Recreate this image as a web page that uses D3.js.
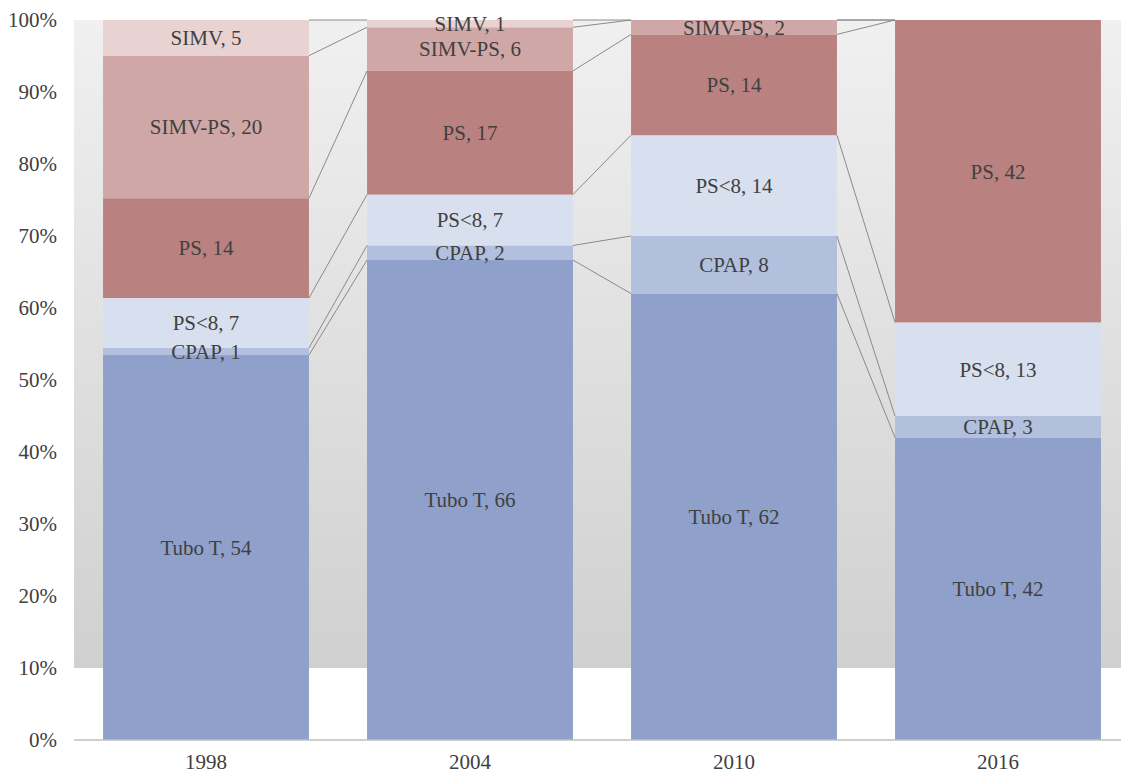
<!DOCTYPE html>
<html>
<head>
<meta charset="utf-8">
<script src="https://cdn.jsdelivr.net/npm/d3@7"></script>
<style>
  body { margin: 0; background: #fff; }
  svg text { font-family: "Liberation Serif", "Times New Roman", serif; fill: #404040; }
</style>
</head>
<body>
<svg id="chart" width="1121" height="774"></svg>
<script>
// Data
const years = ['1998', '2004', '2010', '2016'];
const series = ['Tubo T', 'CPAP', 'PS<8', 'PS', 'SIMV-PS', 'SIMV'];
const tuboT = [54, 66, 62, 42];
const cpap = [1, 2, 8, 3];
const psLow = [7, 7, 14, 13];
const ps = [14, 17, 14, 42];
const simvPs = [20, 6, 2, 0];
const simv = [5, 1, 0, 0];
const yTicks = [0, 0.1, 0.2, 0.3, 0.4, 0.5, 0.6, 0.7, 0.8, 0.9, 1];

// Colors
const colors = ['#8fa1cb', '#b2c0de', '#d8dfee', '#b98280', '#cfa7a6', '#e8d3d2'];

const width = 1121;
const height = 774;
const margin = {top: 20, right: 0, bottom: 34, left: 74};

const rows = years.map((y, i) => ({
  year: y,
  'Tubo T': tuboT[i],
  'CPAP': cpap[i],
  'PS<8': psLow[i],
  'PS': ps[i],
  'SIMV-PS': simvPs[i],
  'SIMV': simv[i]
}));

const stacked = d3.stack()
  .keys(series)
  .offset(d3.stackOffsetExpand)(rows);

// Scales
const x = d3.scaleBand()
  .domain(years)
  .range([margin.left, margin.left + 1056])
  .paddingInner(0.22)
  .paddingOuter(0.11);

const y = d3.scaleLinear()
  .domain([0, 1])
  .range([height - margin.bottom, margin.top]);

const svg = d3.select('#chart');

// Plot background (gradient down to 10%, white below)
const defs = svg.append('defs');
const grad = defs.append('linearGradient')
  .attr('id', 'bg')
  .attr('x1', 0).attr('y1', 0).attr('x2', 0).attr('y2', 1);
grad.append('stop').attr('offset', '0%').attr('stop-color', '#f0f0f0');
grad.append('stop').attr('offset', '100%').attr('stop-color', '#d0d0d0');

svg.append('rect')
  .attr('x', margin.left)
  .attr('y', y(1))
  .attr('width', width - margin.left)
  .attr('height', y(0.1) - y(1))
  .attr('fill', 'url(#bg)');

// Bars
const layers = svg.append('g').attr('class', 'bars')
  .selectAll('g')
  .data(stacked)
  .join('g')
  .attr('fill', (d, i) => colors[i]);

layers.selectAll('rect')
  .data(d => d)
  .join('rect')
  .attr('x', d => x(d.data.year))
  .attr('y', d => y(d[1]))
  .attr('width', x.bandwidth())
  .attr('height', d => y(d[0]) - y(d[1]));

// Series lines
const lines = svg.append('g')
  .attr('class', 'series-lines')
  .attr('stroke', '#8a8a8a')
  .attr('stroke-width', 1);
stacked.forEach(layer => {
  for (let i = 0; i < layer.length - 1; i++) {
    lines.append('line')
      .attr('x1', x(years[i]) + x.bandwidth())
      .attr('y1', y(layer[i][1]))
      .attr('x2', x(years[i + 1]))
      .attr('y2', y(layer[i + 1][1]));
  }
});

// Data labels
const labels = svg.append('g')
  .attr('class', 'labels')
  .attr('text-anchor', 'middle')
  .attr('font-size', 21);
stacked.forEach(layer => {
  layer.forEach(d => {
    const v = d.data[layer.key];
    if (!v) return;
    labels.append('text')
      .attr('x', x(d.data.year) + x.bandwidth() / 2)
      .attr('y', (y(d[0]) + y(d[1])) / 2)
      .attr('dy', '0.35em')
      .text(`${layer.key}, ${v}`);
  });
});

// Axes
svg.append('line')
  .attr('x1', margin.left)
  .attr('x2', width)
  .attr('y1', y(0))
  .attr('y2', y(0))
  .attr('stroke', '#bfbfbf')
  .attr('stroke-width', 1.5);

svg.append('g')
  .attr('text-anchor', 'end')
  .attr('font-size', 21)
  .selectAll('text')
  .data(yTicks)
  .join('text')
  .attr('x', 57)
  .attr('y', d => y(d))
  .attr('dy', '0.35em')
  .text(d => d3.format('.0%')(d));

svg.append('g')
  .attr('text-anchor', 'middle')
  .attr('font-size', 21)
  .selectAll('text')
  .data(years)
  .join('text')
  .attr('x', d => x(d) + x.bandwidth() / 2)
  .attr('y', 762)
  .attr('dy', '0.35em')
  .text(d => d);
</script>
</body>
</html>
